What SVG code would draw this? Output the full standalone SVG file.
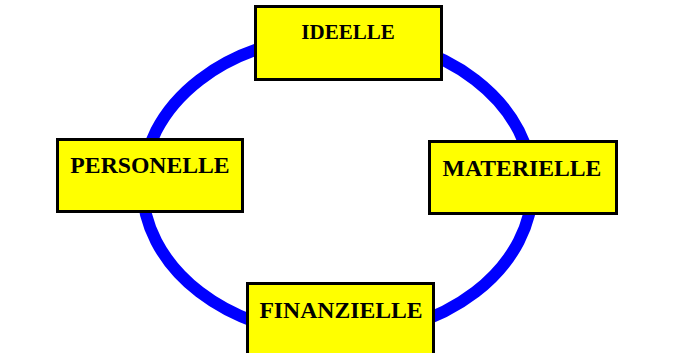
<svg xmlns="http://www.w3.org/2000/svg" width="675" height="353" viewBox="0 0 675 353">
<style>
.box{fill:#ffff00;stroke:#000;stroke-width:3}
.lbl{font-family:"Liberation Serif","Times New Roman",serif;font-weight:bold;font-size:23.7px;fill:#000;text-anchor:middle}
</style>
<rect width="675" height="353" fill="#fff"/>
<g id="connectors">
<ellipse cx="337.5" cy="186" rx="195" ry="150" fill="none" stroke="#0000ff" stroke-width="12"/>
</g>
<g id="ideelle">
<rect class="box" x="255.5" y="6.5" width="186" height="73"/>
<text class="lbl" x="348" y="39" style="font-size:21px">IDEELLE</text>
</g>
<g id="personelle">
<rect class="box" x="57.5" y="139.5" width="185" height="72"/>
<text class="lbl" x="150" y="173">PERSONELLE</text>
</g>
<g id="materielle">
<rect class="box" x="429.5" y="141.5" width="187" height="72"/>
<text class="lbl" x="522" y="176">MATERIELLE</text>
</g>
<g id="finanzielle">
<rect class="box" x="247.5" y="283.5" width="186" height="80"/>
<text class="lbl" x="341" y="318">FINANZIELLE</text>
</g>
</svg>
